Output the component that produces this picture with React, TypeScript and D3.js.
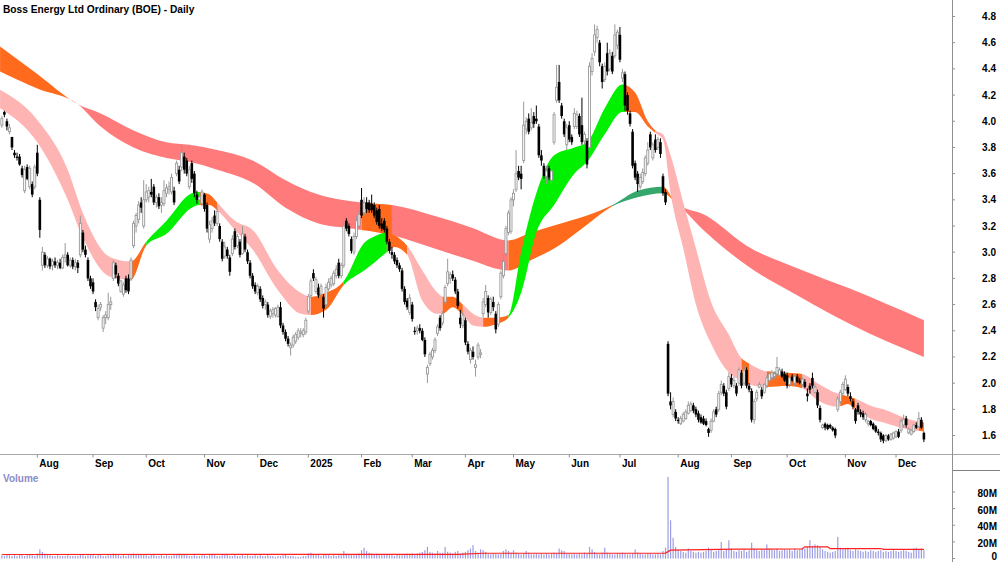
import React from 'react';
import * as d3 from 'd3';

type C = [number, number, number, number]; // open, high, low, close

const TITLE = 'Boss Energy Ltd Ordinary (BOE) - Daily';

const jul24: C[] = [[3.97,4.04,3.95,4.02],[4.07,4.08,4.03,4.05],[4.0,4.02,3.93,3.96],[3.92,3.98,3.9,3.95],[3.88,3.88,3.78,3.8],[3.76,3.78,3.72,3.74],[3.73,3.76,3.7,3.72],[3.73,3.75,3.66,3.67],[3.64,3.66,3.57,3.59],[3.47,3.66,3.45,3.63],[3.65,3.67,3.55,3.56],[3.5,3.66,3.48,3.64],[3.52,3.54,3.42,3.44],[3.5,3.67,3.48,3.65]];
const aug24: C[] = [[3.76,3.82,3.58,3.6],[3.4,3.42,3.11,3.17],[2.9,3.04,2.86,3.0],[2.98,3.0,2.88,2.9],[2.9,2.97,2.88,2.95],[2.95,2.96,2.87,2.89],[2.9,2.95,2.86,2.93],[2.93,2.96,2.88,2.9],[2.9,2.94,2.87,2.92],[2.92,2.95,2.87,2.88],[2.88,2.98,2.87,2.96],[2.96,3.07,2.92,2.98],[2.98,3.0,2.89,2.9],[2.9,2.96,2.88,2.94],[2.94,2.96,2.87,2.89],[2.89,2.95,2.86,2.92],[2.92,2.94,2.84,2.88],[2.98,3.28,2.96,3.22],[3.15,3.17,3.0,3.02],[3.02,3.05,2.96,2.98],[2.94,2.96,2.78,2.8],[2.8,2.82,2.72,2.74]];
const sep24: C[] = [[2.77,2.8,2.68,2.7],[2.62,2.64,2.55,2.58],[2.5,2.6,2.48,2.57],[2.58,2.62,2.55,2.6],[2.42,2.52,2.39,2.5],[2.5,2.55,2.45,2.52],[2.5,2.69,2.48,2.6],[2.6,2.66,2.56,2.62],[2.8,2.94,2.78,2.92],[2.9,2.92,2.8,2.83],[2.82,2.84,2.74,2.76],[2.7,2.79,2.69,2.78],[2.68,2.77,2.66,2.75],[2.8,2.82,2.69,2.71],[2.8,2.83,2.68,2.7],[2.8,2.96,2.78,2.94],[3.05,3.24,3.03,3.22],[3.2,3.3,3.15,3.28],[3.25,3.39,3.22,3.36],[3.38,3.42,3.3,3.34],[3.2,3.55,3.18,3.4]];
const oct24: C[] = [[3.4,3.52,3.38,3.46],[3.42,3.5,3.38,3.47],[3.46,3.56,3.42,3.44],[3.5,3.52,3.36,3.38],[3.38,3.44,3.34,3.42],[3.42,3.45,3.33,3.35],[3.36,3.42,3.3,3.38],[3.37,3.55,3.35,3.47],[3.45,3.52,3.42,3.49],[3.48,3.54,3.44,3.5],[3.46,3.6,3.44,3.57],[3.47,3.5,3.36,3.38],[3.6,3.7,3.58,3.68],[3.63,3.66,3.52,3.54],[3.65,3.82,3.62,3.76],[3.73,3.76,3.6,3.63],[3.7,3.72,3.58,3.6],[3.5,3.66,3.48,3.63],[3.68,3.7,3.53,3.56],[3.6,3.62,3.42,3.45],[3.44,3.47,3.37,3.4],[3.4,3.46,3.36,3.42],[3.37,3.48,3.35,3.46]];
const nov24: C[] = [[3.44,3.45,3.31,3.33],[3.36,3.38,3.15,3.18],[3.1,3.24,3.07,3.21],[3.18,3.27,3.15,3.24],[3.28,3.32,3.2,3.22],[3.22,3.35,3.2,3.31],[3.2,3.22,3.08,3.1],[3.08,3.1,2.93,2.95],[2.97,3.08,2.95,3.04],[3.02,3.04,2.95,2.97],[2.96,2.98,2.82,2.85],[2.99,3.13,2.97,3.1],[3.16,3.18,3.02,3.04],[3.05,3.14,3.03,3.12],[3.08,3.1,2.96,2.98],[2.99,3.2,2.98,3.14],[3.12,3.14,3.0,3.02],[3.0,3.02,2.91,2.93],[2.92,2.94,2.8,2.82],[2.82,2.84,2.72,2.74],[2.75,2.77,2.68,2.7]];
const dec24: C[] = [[2.69,2.76,2.67,2.74],[2.72,2.74,2.62,2.64],[2.65,2.67,2.57,2.59],[2.6,2.64,2.56,2.62],[2.6,2.62,2.5,2.52],[2.51,2.57,2.49,2.55],[2.53,2.58,2.5,2.56],[2.52,2.58,2.5,2.57],[2.51,2.6,2.5,2.58],[2.58,2.62,2.42,2.44],[2.44,2.46,2.37,2.39],[2.39,2.41,2.32,2.34],[2.34,2.36,2.28,2.3],[2.27,2.31,2.21,2.29],[2.29,2.37,2.27,2.35],[2.32,2.39,2.3,2.37],[2.35,2.42,2.33,2.4],[2.38,2.42,2.35,2.39],[2.37,2.42,2.35,2.4],[2.39,2.5,2.37,2.48]];
const jan25: C[] = [[2.55,2.68,2.53,2.66],[2.67,2.8,2.65,2.78],[2.84,2.87,2.78,2.8],[2.7,2.81,2.68,2.79],[2.73,2.76,2.65,2.67],[2.68,2.76,2.66,2.74],[2.66,2.68,2.5,2.57],[2.6,2.76,2.58,2.73],[2.72,2.8,2.7,2.77],[2.75,2.82,2.73,2.8],[2.76,2.86,2.74,2.84],[2.82,2.9,2.8,2.87],[2.92,2.95,2.8,2.82],[2.82,2.92,2.8,2.9],[2.9,3.24,2.88,3.2],[3.24,3.26,3.16,3.18],[3.2,3.22,3.12,3.14],[3.1,3.12,2.99,3.01],[3.0,3.15,2.98,3.12],[3.12,3.27,3.1,3.24],[3.2,3.32,3.18,3.29]];
const feb25: C[] = [[3.4,3.49,3.26,3.28],[3.3,3.42,3.28,3.38],[3.38,3.42,3.3,3.33],[3.38,3.4,3.3,3.32],[3.37,3.44,3.3,3.32],[3.36,3.38,3.26,3.28],[3.32,3.34,3.21,3.23],[3.33,3.36,3.18,3.2],[3.22,3.26,3.16,3.18],[3.24,3.26,3.15,3.17],[3.18,3.2,3.06,3.08],[3.08,3.1,2.99,3.01],[3.0,3.04,2.95,2.98],[2.98,3.0,2.91,2.93],[2.94,2.96,2.88,2.9],[2.9,2.92,2.85,2.87],[2.86,2.88,2.7,2.72],[2.72,2.74,2.6,2.62],[2.63,2.65,2.56,2.58],[2.54,2.68,2.52,2.65]];
const mar25: C[] = [[2.6,2.62,2.47,2.49],[2.4,2.43,2.37,2.39],[2.4,2.44,2.37,2.42],[2.42,2.45,2.38,2.4],[2.4,2.42,2.32,2.33],[2.33,2.35,2.2,2.22],[2.07,2.14,2.0,2.12],[2.15,2.24,2.13,2.22],[2.2,2.27,2.18,2.25],[2.25,2.35,2.23,2.33],[2.38,2.45,2.36,2.43],[2.5,2.52,2.4,2.42],[2.46,2.55,2.44,2.53],[2.62,2.75,2.6,2.73],[2.76,2.95,2.74,2.85],[2.8,2.85,2.76,2.83],[2.83,2.86,2.78,2.8],[2.79,2.81,2.68,2.7],[2.7,2.72,2.57,2.59],[2.5,2.56,2.42,2.45],[2.44,2.54,2.42,2.52]];
const apr25: C[] = [[2.48,2.5,2.29,2.31],[2.3,2.32,2.22,2.24],[2.18,2.27,2.15,2.25],[2.24,2.28,2.18,2.2],[2.12,2.18,2.05,2.14],[2.2,2.31,2.18,2.29],[2.22,2.26,2.19,2.23],[2.53,2.65,2.5,2.62],[2.6,2.75,2.58,2.7],[2.65,2.67,2.5,2.54],[2.54,2.66,2.52,2.64],[2.62,2.66,2.55,2.58],[2.53,2.55,2.38,2.41],[2.45,2.62,2.43,2.6],[2.66,2.86,2.64,2.84],[2.82,2.96,2.8,2.93],[2.99,3.2,2.97,3.18],[3.15,3.32,3.13,3.3],[3.16,3.42,3.14,3.4]];
const may25: C[] = [[3.4,3.48,3.35,3.45],[3.48,3.78,3.46,3.6],[3.62,3.66,3.55,3.57],[3.6,3.66,3.48,3.56],[3.7,4.15,3.68,3.97],[3.94,4.03,3.9,4.0],[4.02,4.06,3.9,3.92],[3.95,4.1,3.93,3.99],[4.04,4.07,3.95,3.98],[4.02,4.12,3.98,4.0],[3.96,3.98,3.72,3.74],[3.74,3.78,3.66,3.7],[3.66,3.68,3.56,3.58],[3.58,3.66,3.52,3.62],[3.64,3.66,3.55,3.57],[3.55,3.64,3.52,3.62],[3.84,4.07,3.82,4.05],[4.16,4.43,4.14,4.26],[4.3,4.43,4.14,4.16],[4.12,4.14,4.02,4.04],[4.0,4.02,3.88,3.9],[3.82,3.98,3.78,3.95]];
const jun25: C[] = [[3.97,4.0,3.84,3.86],[3.88,3.9,3.82,3.84],[3.96,4.1,3.94,4.06],[3.96,4.08,3.94,4.05],[4.04,4.06,3.88,3.9],[3.97,4.18,3.82,3.84],[3.85,3.92,3.82,3.9],[3.85,3.87,3.64,3.67],[3.8,4.45,3.78,4.42],[4.38,4.52,4.35,4.48],[4.53,4.74,4.5,4.66],[4.64,4.73,4.6,4.7],[4.6,4.62,4.42,4.45],[4.42,4.44,4.25,4.3],[4.32,4.45,4.3,4.42],[4.52,4.6,4.35,4.38],[4.4,4.55,4.38,4.52],[4.5,4.53,4.36,4.38],[4.5,4.74,4.48,4.66],[4.58,4.7,4.55,4.68]];
const jul25: C[] = [[4.66,4.72,4.45,4.47],[4.33,4.4,4.3,4.37],[4.36,4.38,4.08,4.12],[4.2,4.22,4.05,4.08],[4.06,4.08,3.96,3.98],[3.92,3.94,3.64,3.66],[3.68,3.7,3.55,3.57],[3.6,3.62,3.46,3.52],[3.5,3.6,3.48,3.57],[3.54,3.64,3.52,3.61],[3.6,3.74,3.58,3.72],[3.68,3.84,3.66,3.78],[3.9,3.92,3.78,3.8],[3.72,3.84,3.7,3.82],[3.86,3.9,3.76,3.78],[3.8,3.88,3.78,3.86],[3.84,3.87,3.72,3.75],[3.58,3.6,3.43,3.45],[3.46,3.48,3.36,3.38],[2.3,2.32,1.9,1.92],[1.86,1.93,1.8,1.83],[1.76,1.89,1.74,1.86],[1.78,1.8,1.71,1.73]];
const aug25: C[] = [[1.72,1.74,1.69,1.71],[1.69,1.75,1.68,1.73],[1.71,1.78,1.7,1.76],[1.73,1.8,1.72,1.78],[1.77,1.86,1.76,1.83],[1.79,1.86,1.78,1.84],[1.83,1.85,1.77,1.79],[1.8,1.82,1.74,1.76],[1.77,1.79,1.7,1.72],[1.74,1.76,1.69,1.7],[1.73,1.75,1.68,1.69],[1.71,1.73,1.67,1.68],[1.65,1.66,1.59,1.62],[1.64,1.73,1.62,1.71],[1.71,1.8,1.7,1.78],[1.8,1.82,1.74,1.76],[1.8,1.94,1.78,1.92],[1.93,2.02,1.91,1.99],[1.98,2.0,1.9,1.92],[1.93,1.95,1.8,1.82],[1.96,2.08,1.94,2.05]];
const sep25: C[] = [[2.04,2.07,1.97,1.99],[1.98,2.05,1.96,2.02],[1.98,2.0,1.9,1.92],[2.0,2.12,1.98,2.1],[2.08,2.1,1.96,1.98],[2.0,2.14,1.98,2.1],[2.1,2.12,1.96,1.98],[1.98,2.0,1.93,1.95],[1.94,1.96,1.7,1.72],[1.72,1.88,1.69,1.86],[1.88,1.95,1.86,1.93],[1.97,2.01,1.96,1.99],[1.95,1.97,1.88,1.9],[1.93,2.0,1.92,1.99],[1.98,2.06,1.96,2.04],[2.02,2.09,2.0,2.07],[2.04,2.1,2.02,2.08],[2.05,2.09,2.03,2.07],[2.07,2.2,2.05,2.12],[2.06,2.12,2.04,2.1],[2.09,2.11,2.04,2.05],[2.07,2.09,2.01,2.02]];
const oct25: C[] = [[2.06,2.08,1.96,1.98],[1.99,2.06,1.97,2.04],[2.05,2.07,2.01,2.02],[2.0,2.06,1.98,2.05],[2.05,2.07,2.0,2.01],[2.02,2.04,1.99,2.0],[1.99,2.05,1.97,2.03],[2.01,2.03,1.96,1.97],[1.92,1.96,1.86,1.9],[1.98,2.0,1.92,1.95],[2.04,2.08,1.96,1.98],[1.93,1.99,1.92,1.97],[1.93,1.95,1.81,1.83],[1.81,1.83,1.7,1.72],[1.66,1.69,1.65,1.68],[1.69,1.7,1.64,1.66],[1.68,1.69,1.64,1.65],[1.68,1.69,1.65,1.66],[1.66,1.67,1.63,1.64],[1.65,1.66,1.58,1.6],[1.8,1.9,1.78,1.88],[1.86,1.95,1.84,1.93],[1.92,2.01,1.9,1.99]];
const nov25: C[] = [[1.95,2.06,1.94,2.03],[1.97,1.99,1.9,1.92],[1.9,1.93,1.86,1.88],[1.86,1.88,1.8,1.82],[1.8,1.81,1.69,1.71],[1.83,1.85,1.76,1.78],[1.78,1.8,1.74,1.76],[1.77,1.79,1.72,1.74],[1.72,1.78,1.7,1.76],[1.69,1.72,1.67,1.71],[1.71,1.72,1.67,1.68],[1.69,1.7,1.64,1.65],[1.67,1.68,1.62,1.63],[1.63,1.65,1.6,1.62],[1.62,1.63,1.55,1.57],[1.6,1.61,1.54,1.56],[1.56,1.61,1.55,1.6],[1.6,1.61,1.56,1.57],[1.57,1.62,1.56,1.61],[1.58,1.63,1.57,1.62]];
const dec25: C[] = [[1.59,1.64,1.58,1.63],[1.63,1.65,1.58,1.59],[1.64,1.73,1.62,1.71],[1.68,1.76,1.66,1.72],[1.73,1.75,1.66,1.68],[1.62,1.66,1.61,1.65],[1.61,1.65,1.6,1.64],[1.63,1.69,1.62,1.68],[1.68,1.7,1.65,1.66],[1.67,1.78,1.66,1.73],[1.72,1.74,1.65,1.66],[1.62,1.63,1.55,1.57]];

// volume in millions, per month
const volJul24 = [4,3,5,4,3,4,3,5,4,3,4,5,4,3];
const volAug24 = [6,11,8,6,4,4,3,3,4,3,3,3,4,3,3,3,3,5,4,3,4,4];
const volSep24 = [4,3,5,4,3,3,4,4,6,5,4,3,4,3,4,5,6,5,4,5,4];
const volOct24 = [4,3,4,5,3,3,4,3,4,3,3,5,4,6,5,5,4,3,3,4,3,3,4];
const volNov24 = [4,3,4,5,4,3,3,4,4,5,3,3,4,3,3,4,3,4,3,3,4];
const volDec24 = [3,4,3,3,4,3,3,2,3,3,4,5,3,3,3,2,2,2,3,3];
const volJan25 = [6,7,5,4,4,3,5,4,4,3,4,3,4,4,9,6,5,4,4,5,6];
const volFeb25 = [10,13,9,7,6,5,6,5,4,4,5,4,4,3,5,4,4,5,6,5];
const volMar25 = [6,5,6,7,8,10,14,8,7,6,9,7,7,14,8,7,6,8,9,6,7];
const volApr25 = [8,10,12,16,9,7,11,10,8,6,5,6,6,5,6,9,11,9,7];
const volMay25 = [10,7,6,5,6,9,7,5,5,6,5,6,5,6,5,6,7,6,12,10,9,6];
const volJun25 = [6,5,6,5,6,5,7,6,14,11,8,6,5,7,13,7,6,5,5,6];
const volJul25 = [6,7,6,5,5,6,11,7,6,5,5,6,6,5,5,6,5,9,13,98,46,25,14];
const volAug25 = [10,9,8,7,12,9,8,7,8,7,8,9,13,10,8,9,10,20,9,11,22];
const volSep25 = [12,9,8,10,9,11,8,10,19,12,10,9,11,10,17,12,11,10,12,9,10,11];
const volOct25 = [10,11,9,12,10,11,13,12,14,22,15,17,16,14,11,9,8,7,8,9,26,13,11];
const volNov25 = [12,13,10,9,11,10,9,8,9,8,10,9,8,9,10,8,9,8,9,10];
const volDec25 = [9,8,9,10,9,8,7,12,13,11,12,10];

// volume average line (index, millions)
const volAvgIdx = [0,180,190,262,264,290,316,317,326,327,347,348,364];
const volAvgVal = [4.8,5.0,6.3,6.5,10.0,11.2,11.4,14.0,14.0,12.0,12.0,11.0,11.0];

// short-term ribbon edges
const shortIdx = [-0.7,14,26,32,43,51,57,65,75,78,82,85,92,99,109,118,122,128,135,143,147,152,155,160,166,172,174,178,182,186,190,195,200,205,211,218,226,231,238,245,250,255,258,261,264,269,274,280,287,292,295,302,310,316,322,330,334,337,344,348,357,364];
const shortUpper = [4.24,4.01,3.63,3.30,2.96,2.93,3.08,3.24,3.45,3.46,3.44,3.38,3.24,3.17,2.86,2.69,2.66,2.69,2.78,3.07,3.12,3.15,3.13,3.05,2.86,2.69,2.66,2.66,2.6,2.53,2.5,2.5,2.52,3.0,3.45,3.74,3.8,3.84,4.1,4.28,4.22,4.0,3.93,3.9,3.74,3.38,3.03,2.62,2.37,2.19,2.15,2.09,2.08,2.07,2.0,1.92,1.9,1.88,1.82,1.8,1.73,1.7];
const shortLower = [4.10,3.84,3.40,3.11,2.81,2.79,3.05,3.14,3.34,3.36,3.36,3.32,3.17,3.02,2.71,2.53,2.52,2.56,2.75,2.86,2.92,3.0,3.04,2.98,2.63,2.53,2.53,2.58,2.52,2.44,2.43,2.45,2.5,2.69,3.15,3.36,3.6,3.69,3.9,4.07,4.07,3.96,3.91,3.86,3.45,3.03,2.6,2.3,2.08,2.02,1.99,1.97,1.98,1.96,1.87,1.82,1.84,1.8,1.72,1.7,1.65,1.63];
const shortSegStart = [0,51,57,78,85,122,135,152,160,174,182,190,200,246,258,292,295,302,316,331,337,362];
const shortSegState = ['fall','turn','rise','turn','fall','turn','rise','turn','fall','turn','fall','turn','rise','turn','fall','turn','fall','turn','fall','turn','fall','turn'];

// long-term ribbon edges
const longIdx = [-0.7,14,30,39,52,65,74,85,99,112,125,134,142,154,172,185,200,209,219,231,241,251,261,266,278,294,315,335,364];
const longUpper = [4.57,4.36,4.13,4.06,3.93,3.84,3.82,3.78,3.70,3.55,3.44,3.40,3.38,3.36,3.27,3.19,3.09,3.15,3.21,3.28,3.36,3.47,3.5,3.38,3.28,3.05,2.87,2.72,2.48];
const longLower = [4.38,4.25,4.13,3.96,3.80,3.72,3.69,3.63,3.53,3.34,3.22,3.19,3.17,3.13,3.02,2.94,2.86,2.94,3.04,3.21,3.35,3.42,3.45,3.38,3.15,2.9,2.66,2.45,2.2];
const longSegStart = [0,30,142,154,200,241,261,266];
const longSegState = ['turn','fall','turn','fall','turn','rise','turn','fall'];

const monthIdx = [14,36,57,80,101,121,142,162,183,202,224,244,267,288,310,333,353];
const monthLabels = ['Aug','Sep','Oct','Nov','Dec','2025','Feb','Mar','Apr','May','Jun','Jul','Aug','Sep','Oct','Nov','Dec'];
const priceTicks = [1.6,1.8,2.0,2.2,2.4,2.6,2.8,3.0,3.2,3.4,3.6,3.8,4.0,4.2,4.4,4.6,4.8];
const volTicks = [0,20,40,60,80];

const shortColors: Record<string, string> = { fall: '#ffb4b4', turn: '#ff6a1c', rise: '#00f000' };
const longColors: Record<string, string> = { fall: '#ff7b7b', turn: '#ff6a1c', rise: '#35a76c' };

const FONT = '"Liberation Sans", Arial, Helvetica, sans-serif';
const AXIS_X = 952;

export default function App() {
  const candles: C[] = [...jul24, ...aug24, ...sep24, ...oct24, ...nov24, ...dec24, ...jan25, ...feb25, ...mar25, ...apr25, ...may25, ...jun25, ...jul25, ...aug25, ...sep25, ...oct25, ...nov25, ...dec25];
  const volumes: number[] = [...volJul24, ...volAug24, ...volSep24, ...volOct24, ...volNov24, ...volDec24, ...volJan25, ...volFeb25, ...volMar25, ...volApr25, ...volMay25, ...volJun25, ...volJul25, ...volAug25, ...volSep25, ...volOct25, ...volNov25, ...volDec25];

  const x = d3.scaleLinear().domain([0, 364]).range([1.84, 923.9]);
  const y = d3.scaleLinear().domain([1.6, 4.8]).range([435.5, 16.5]);
  const yv = d3.scaleLinear().domain([0, 80]).range([558.5, 492]);

  const ribbon = (idx: number[], up: number[], lo: number[]) =>
    d3.area<number>()
      .x((_, k) => x(idx[k]))
      .y0((_, k) => y(lo[k]))
      .y1((_, k) => y(up[k]))
      .curve(d3.curveMonotoneX)(idx) || '';

  const shortPath = ribbon(shortIdx, shortUpper, shortLower);
  const longPath = ribbon(longIdx, longUpper, longLower);

  const segRect = (starts: number[], k: number) => {
    const x0 = k === 0 ? 0 : x(starts[k]);
    const x1 = k === starts.length - 1 ? AXIS_X : x(starts[k + 1]);
    return { x0, x1 };
  };

  const volLine = d3.line<number>()
    .x((_, k) => x(volAvgIdx[k]))
    .y((_, k) => yv(volAvgVal[k]))(volAvgIdx) || '';

  return (
    <svg width={1000} height={562} style={{ position: 'absolute', left: 0, top: 0, background: '#fff' }} fontFamily={FONT}>
      <defs>
        <clipPath id="plot"><rect x={0} y={0} width={AXIS_X} height={453} /></clipPath>
        {shortSegStart.map((_, k) => {
          const r = segRect(shortSegStart, k);
          return <clipPath key={'sc' + k} id={'sc' + k}><rect x={r.x0} y={0} width={Math.max(0, r.x1 - r.x0)} height={453} /></clipPath>;
        })}
        {longSegStart.map((_, k) => {
          const r = segRect(longSegStart, k);
          return <clipPath key={'lc' + k} id={'lc' + k}><rect x={r.x0} y={0} width={Math.max(0, r.x1 - r.x0)} height={453} /></clipPath>;
        })}
      </defs>
      <rect x={0} y={0} width={1000} height={562} fill="#fff" />

      <g clipPath="url(#plot)">
        {longSegStart.map((_, k) => (
          <path key={'l' + k} d={longPath} fill={longColors[longSegState[k]]} clipPath={`url(#lc${k})`} />
        ))}
        {shortSegStart.map((_, k) => (
          <path key={'s' + k} d={shortPath} fill={shortColors[shortSegState[k]]} clipPath={`url(#sc${k})`} />
        ))}
        {candles.map((c, i) => {
          const [o, h, l, cl] = c;
          const cx = x(i);
          const up = cl >= o;
          const top = y(Math.max(o, cl));
          const bot = y(Math.min(o, cl));
          const bh = Math.max(1, bot - top);
          return (
            <g key={'c' + i}>
              <line x1={cx} x2={cx} y1={y(h)} y2={y(l)} stroke={up ? '#999' : '#000'} strokeWidth={1} />
              {up ? (
                <rect x={cx - 1} y={top} width={2} height={bh} fill="#fff" stroke="#999" strokeWidth={0.9} />
              ) : (
                <rect x={cx - 1.3} y={top} width={2.6} height={bh} fill="#000" />
              )}
            </g>
          );
        })}
      </g>

      {/* volume */}
      {volumes.map((v, i) => (
        <rect key={'v' + i} x={x(i) - 0.6} y={yv(v)} width={1.2} height={yv(0) - yv(v)} fill="#9d9de4" />
      ))}
      <path d={volLine} fill="none" stroke="#ff2020" strokeWidth={1.2} />

      {/* frame lines */}
      <line x1={0} x2={1000} y1={454.5} y2={454.5} stroke="#a8a8a8" strokeWidth={1} />
      <line x1={AXIS_X} x2={1000} y1={470.5} y2={470.5} stroke="#808080" strokeWidth={1} />
      <line x1={AXIS_X + 0.5} x2={AXIS_X + 0.5} y1={0} y2={562} stroke="#909090" strokeWidth={1} />

      {/* price axis */}
      {priceTicks.map((p) => (
        <g key={'p' + p}>
          <line x1={AXIS_X} x2={AXIS_X + 3} y1={y(p)} y2={y(p)} stroke="#909090" />
          <text x={996} y={y(p)} dy="0.35em" textAnchor="end" fontSize={10} fontWeight="bold" fill="#000">{p.toFixed(1)}</text>
        </g>
      ))}

      {/* month axis */}
      {monthIdx.map((m, k) => (
        <g key={'m' + k}>
          <line x1={x(m)} x2={x(m)} y1={454.5} y2={457.5} stroke="#909090" />
          <text x={x(m) + 2} y={467} fontSize={10} fontWeight="bold" fill="#000">{monthLabels[k]}</text>
        </g>
      ))}

      {/* volume axis */}
      {volTicks.map((v) => (
        <g key={'vt' + v}>
          <line x1={AXIS_X} x2={AXIS_X + 3} y1={yv(v)} y2={yv(v)} stroke="#909090" />
          <text x={997} y={v === 0 ? 556 : yv(v) + 1.5} dy="0.35em" textAnchor="end" fontSize={10} fontWeight="bold" fill="#000">{v === 0 ? '0' : v + 'M'}</text>
        </g>
      ))}

      <text x={3} y={482} fontSize={10} fontWeight="bold" fill="#8b8bc6">Volume</text>
      <text x={3} y={12.5} fontSize={10.2} fontWeight="bold" fill="#000">{TITLE}</text>
    </svg>
  );
}
